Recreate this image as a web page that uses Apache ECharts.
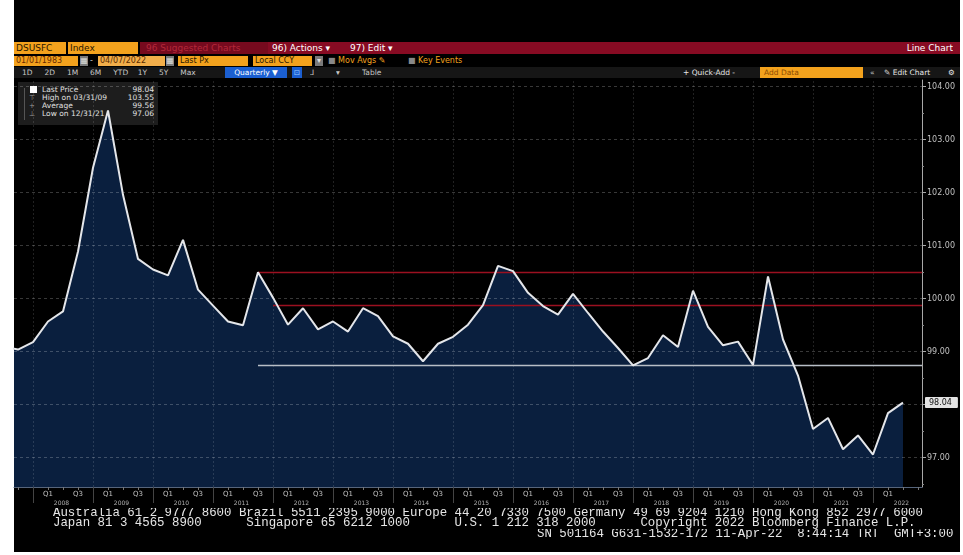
<!DOCTYPE html>
<html><head><meta charset="utf-8">
<script src="https://cdn.jsdelivr.net/npm/echarts@6/dist/echarts.min.js"></script>
<style>
body{margin:0;width:963px;height:555px;background:#fff;overflow:hidden;position:relative;font-family:"DejaVu Sans","Liberation Sans",sans-serif}
.a{position:absolute;white-space:pre;box-sizing:border-box;overflow:hidden}
.r1{top:42px;height:12px;line-height:12px;font-size:9px}
.r2{top:56px;height:10px;line-height:10px;font-size:8px}
.r3{top:67px;height:11px;line-height:11px;font-size:7.5px;color:#c8c8c8}
.or{background:#f3a21d;color:#2a1800;padding-left:2px}
.gb{background:#7a7a7a;color:#ddd;text-align:center}
#legend{left:18px;top:82px;width:140px;height:43px;background:#1d1d1d;z-index:1}
#legend .row{position:absolute;left:0;width:140px;height:8px;line-height:8px;font-size:7.5px;color:#e0e0e0}
#legend .lab{position:absolute;left:24px}
#legend .val{position:absolute;right:4px}
#legend .sym{position:absolute;left:11px;color:#999;font-size:7px}
.foot{font-family:"Liberation Mono","DejaVu Sans Mono",monospace;font-size:12.4px;line-height:10.3px;color:#e6e6e6;z-index:3}
</style></head><body>
<div class="a" style="left:14px;top:0;width:946px;height:552px;background:#000"></div>

<!-- toolbar row 1 -->
<div class="a r1" style="left:140px;width:820px;background:#870b23"></div>
<div class="a r1 or" style="left:14px;width:52px">DSUSFC</div>
<div class="a r1 or" style="left:68px;width:70px">Index</div>
<div class="a r1" style="left:140px;width:128px;background:#760a1e;color:#b3283a;padding-left:6px">96 Suggested Charts</div>
<div class="a r1" style="left:272px;width:76px;color:#fff">96) Actions ▾</div>
<div class="a r1" style="left:350px;width:60px;color:#fff">97) Edit ▾</div>
<div class="a r1" style="left:880px;width:73px;color:#fff;text-align:right">Line Chart</div>

<!-- toolbar row 2 -->
<div class="a r2 or" style="left:14px;width:64px;color:#6a2a00">01/01/1983</div>
<div class="a r2 gb" style="left:80px;width:8px">▦</div>
<div class="a r2" style="left:90px;width:6px;color:#ccc">-</div>
<div class="a r2 or" style="left:98px;width:67px;background:#f2ae4a;color:#5a2a00">04/07/2022</div>
<div class="a r2 gb" style="left:166px;width:8px">▦</div>
<div class="a r2 or" style="left:178px;width:70px">Last Px</div>
<div class="a r2 or" style="left:253px;width:59px">Local CCY</div>
<div class="a r2 gb" style="left:315px;width:8px">▾</div>
<div class="a r2" style="left:328px;width:70px;color:#f3a21d"><span style="color:#888">■</span> Mov Avgs ✎</div>
<div class="a r2" style="left:408px;width:75px;color:#f3a21d"><span style="color:#888">■</span> Key Events</div>

<!-- toolbar row 3 -->
<div class="a r3" style="left:14px;width:946px;background:#161616"></div>
<div class="a r3" style="left:22px;width:200px">1D     2D     1M     6M     YTD    1Y     5Y     Max</div>
<div class="a r3" style="left:225px;width:62px;background:#1b5fd1;color:#fff;text-align:center">Quarterly ▼</div>
<div class="a r3" style="left:292px;width:10px;background:#1b5fd1;color:#9cf;text-align:center">⊡</div>
<div class="a r3" style="left:310px;width:12px">⅃</div>
<div class="a r3" style="left:336px;width:8px">▾</div>
<div class="a r3" style="left:362px;width:30px">Table</div>
<div class="a r3" style="left:683px;width:70px;color:#e8e8e8">+ Quick-Add -</div>
<div class="a r3" style="left:760px;width:103px;background:#f3a21d;color:#8a4a00;padding-left:4px">Add Data</div>
<div class="a r3" style="left:870px;width:10px">«</div>
<div class="a r3" style="left:884px;width:60px;color:#e8e8e8">✎ Edit Chart</div>
<div class="a r3" style="left:948px;width:10px;color:#e8e8e8">⚙</div>

<!-- legend box -->
<div class="a" id="legend"></div>

<div id="chart" style="position:absolute;left:0;top:0;width:963px;height:555px;z-index:2"></div>

<!-- footer -->
<div class="a foot" style="left:53px;top:508px;width:900px">Australia 61 2 9777 8600 Brazil 5511 2395 9000 Europe 44 20 7330 7500 Germany 49 69 9204 1210 Hong Kong 852 2977 6000
Japan 81 3 4565 8900      Singapore 65 6212 1000      U.S. 1 212 318 2000      Copyright 2022 Bloomberg Finance L.P.</div>
<div class="a foot" style="left:537px;top:529px;width:420px">SN 501164 G631-1532-172 11-Apr-22  8:44:14 TRT  GMT+3:00</div>

<script>
// ---------------- data ----------------
const quarters = [
  '2007Q2','2007Q3','2007Q4',
  '2008Q1','2008Q2','2008Q3','2008Q4',
  '2009Q1','2009Q2','2009Q3','2009Q4',
  '2010Q1','2010Q2','2010Q3','2010Q4',
  '2011Q1','2011Q2','2011Q3','2011Q4',
  '2012Q1','2012Q2','2012Q3','2012Q4',
  '2013Q1','2013Q2','2013Q3','2013Q4',
  '2014Q1','2014Q2','2014Q3','2014Q4',
  '2015Q1','2015Q2','2015Q3','2015Q4',
  '2016Q1','2016Q2','2016Q3','2016Q4',
  '2017Q1','2017Q2','2017Q3','2017Q4',
  '2018Q1','2018Q2','2018Q3','2018Q4',
  '2019Q1','2019Q2','2019Q3','2019Q4',
  '2020Q1','2020Q2','2020Q3','2020Q4',
  '2021Q1','2021Q2','2021Q3','2021Q4',
  '2022Q1','2022Q2'
];
const values = [
  99.10, 99.04, 99.18,
  99.57, 99.76, 100.89, 102.47,
  103.55, 101.96, 100.75, 100.55,
  100.44, 101.11, 100.17, 99.87,
  99.57, 99.50, 100.50, 100.02,
  99.51, 99.82, 99.42, 99.57,
  99.38, 99.82, 99.67, 99.29,
  99.15, 98.82, 99.15, 99.28,
  99.51, 99.88, 100.62, 100.52,
  100.11, 99.86, 99.70, 100.09,
  99.73, 99.38, 99.07, 98.74,
  98.88, 99.31, 99.09, 100.15,
  99.47, 99.12, 99.19, 98.75,
  100.42, 99.23, 98.55, 97.54,
  97.75, 97.16, 97.42, 97.06,
  97.84, 98.04
];
const yTicks = [97, 98, 99, 100, 101, 102, 103, 104];
const yMinorTicks = [96.5, 97.5, 98.5, 99.5, 100.5, 101.5, 102.5, 103.5];
const yearLabels = ['2008','2009','2010','2011','2012','2013','2014','2015','2016','2017','2018','2019','2020','2021','2022'];
const quarterLabels = ['Q1', 'Q3'];
const refLineValues = [100.49, 99.87, 98.75];
const refLineStarts = ['2011Q3', '2011Q4', '2011Q3'];
const legendLabels = ['Last Price', 'High on 03/31/09', 'Average', 'Low on 12/31/21'];
const legendValues = [98.04, 103.55, 99.56, 97.06];
const lastPrice = 98.04;

// ---------------- helpers ----------------
// quarter index: 0 = end of 2006
function qIndex(label) { return (+label.slice(0, 4) - 2007) * 4 + (+label.slice(5)); }

const X_MIN = 41 / 15, X_MAX = 949 / 15;
const Y_MIN = 96.447, Y_MAX = 104.126;
const lastQ = qIndex(quarters[quarters.length - 1]);

const pts = quarters.map((q, i) => [qIndex(q), values[i]]);
const yearBounds = yearLabels.map(y => (+y - 2007) * 4);
const yearLabelPos = yearBounds.map(b => b + 1.9);
const qLabelPos = [];
yearBounds.forEach(b => { [b + 1, b + 3].forEach(p => { if (p <= lastQ) qLabelPos.push(p); }); });
const qTickPos = [];
for (let i = Math.ceil(X_MIN); i <= Math.floor(X_MAX); i++) qTickPos.push(i);

// legend box
const lg = document.getElementById('legend');
const syms = ['', '⊤', '+', '⊥'];
legendLabels.forEach((l, i) => {
  const row = document.createElement('div');
  row.className = 'row';
  row.style.top = (4 + i * 8) + 'px';
  const sym = i === 0 ? '<span class="sym" style="left:12px;top:0;width:7px;height:7px;background:#fff;display:block"></span>'
                      : '<span class="sym">' + syms[i] + '</span>';
  row.innerHTML = sym + '<span class="lab">' + l + '</span><span class="val">' + legendValues[i].toFixed(2) + '</span>';
  lg.appendChild(row);
});
const tree = document.createElement('div');
tree.style.cssText = 'position:absolute;left:6px;top:6px;width:1px;height:32px;background:#555';
lg.appendChild(tree);

// ---------------- chart ----------------
const chart = echarts.init(document.getElementById('chart'), null, { renderer: 'canvas' });

const gridStyleH = { color: 'rgba(255,255,255,0.22)', type: [3, 3], width: 1 };
const gridStyleV = { color: 'rgba(255,255,255,0.13)', type: [2, 2], width: 1 };
const refColors = ['#9b1020', '#9b1020', '#b8bec6'];

const gridMarks = [
  ...yTicks.map(v => ({ yAxis: v, lineStyle: gridStyleH })),
  ...yearBounds.map(b => ({ xAxis: b, lineStyle: gridStyleV })),
  ...refLineValues.map((v, i) => [
    { coord: [qIndex(refLineStarts[i]), v], lineStyle: { color: refColors[i], width: 1.3, type: 'solid' } },
    { coord: [X_MAX, v], lineStyle: { color: refColors[i], width: 1.3, type: 'solid' } }
  ])
];

const option = {
  animation: false,
  backgroundColor: 'transparent',
  grid: { left: 14, right: 41, top: 80, bottom: 68 },
  xAxis: [
    {
      type: 'value', min: X_MIN, max: X_MAX, position: 'bottom',
      axisLine: { show: true, lineStyle: { color: '#56657c', width: 1 } },
      axisTick: { show: true, customValues: qTickPos, length: 3, lineStyle: { color: '#777' } },
      axisLabel: {
        show: true, customValues: qLabelPos, margin: 4, fontSize: 7, color: '#c0c0c0',
        fontFamily: 'DejaVu Sans',
        formatter: v => quarterLabels[(Math.round(v) % 4 === 1) ? 0 : 1]
      },
      splitLine: { show: false }
    },
    {
      type: 'value', min: X_MIN, max: X_MAX, position: 'bottom',
      axisLine: { show: false },
      axisTick: { show: true, customValues: yearBounds, length: 16, lineStyle: { color: '#444' } },
      axisLabel: {
        show: true, customValues: yearLabelPos, margin: 13, fontSize: 6, color: '#b0b0b0',
        fontFamily: 'DejaVu Sans',
        formatter: v => yearLabels[Math.floor(v / 4) - 1]
      },
      splitLine: { show: false }
    }
  ],
  yAxis: [
    {
      type: 'value', min: Y_MIN, max: Y_MAX, position: 'right',
      axisLine: { show: true, lineStyle: { color: '#a8a8a8', width: 1 } },
      axisTick: { show: true, customValues: yTicks, length: 4, lineStyle: { color: '#a8a8a8' } },
      axisLabel: {
        show: true, customValues: yTicks, margin: 5, fontSize: 8, color: '#c0c0c0',
        fontFamily: 'DejaVu Sans',
        formatter: v => v.toFixed(2)
      },
      splitLine: { show: false }
    },
    {
      type: 'value', min: Y_MIN, max: Y_MAX, position: 'right',
      axisLine: { show: false },
      axisTick: { show: true, customValues: yMinorTicks, length: 2, lineStyle: { color: '#888' } },
      axisLabel: { show: false },
      splitLine: { show: false }
    }
  ],
  series: [
    {
      name: 'area', type: 'line', data: pts, z: 1, silent: true,
      symbol: 'none', lineStyle: { width: 0, opacity: 0 },
      areaStyle: { color: '#0a1f3e', opacity: 1 }
    },
    {
      name: 'grid', type: 'line', data: pts, z: 2, silent: true,
      symbol: 'none', lineStyle: { width: 0, opacity: 0 },
      markLine: { z: 2, silent: true, symbol: 'none', label: { show: false }, animation: false, data: gridMarks }
    },
    {
      name: 'DSUSFC Index', type: 'line', data: pts, z: 3,
      symbol: 'none', lineStyle: { color: '#e4e6ea', width: 2 },
      markLine: {
        z: 6, silent: true, symbol: 'none', animation: false,
        lineStyle: { color: 'rgba(0,0,0,0)', width: 0, opacity: 1 },
        label: {
          show: true, position: 'end', distance: 3, opacity: 1,
          formatter: lastPrice.toFixed(2),
          backgroundColor: '#e2e2e2', color: '#111', fontSize: 8, fontFamily: 'DejaVu Sans',
          padding: [2, 6, 1, 4], borderRadius: 1
        },
        data: [[{ coord: [lastQ, lastPrice] }, { coord: [X_MAX, lastPrice] }]]
      }
    }
  ]
};
chart.setOption(option);
</script>
</body></html>
